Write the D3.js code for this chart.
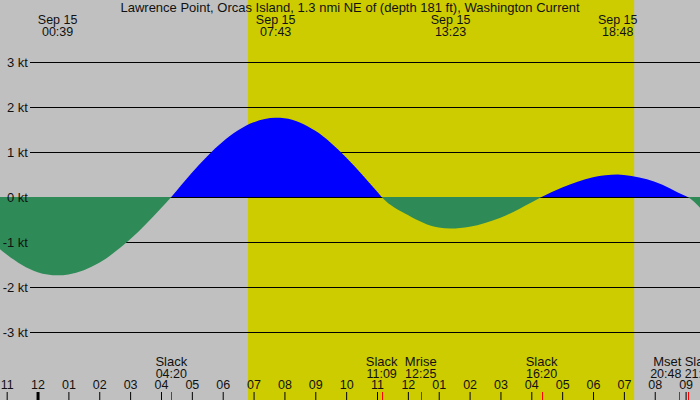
<!DOCTYPE html>
<html>
<head>
<meta charset="utf-8">
<script src="https://cdn.jsdelivr.net/npm/d3@7"></script>
<style>
  body { margin: 0; background: #c0c0c0; }
  svg { display: block; font-family: "Liberation Sans", Arial, sans-serif; }
  text { fill: #111; }
</style>
</head>
<body>
<svg id="chart" width="700" height="400"></svg>
<script>
const title = "Lawrence Point, Orcas Island, 1.3 nmi NE of (depth 181 ft), Washington Current";
const dayLabel = "Sep 15";

// current speed readings (kt)
const readingTimes = [
  "2024-09-14 22:47", "2024-09-14 23:00", "2024-09-15 00:00", "2024-09-15 00:39",
  "2024-09-15 01:00", "2024-09-15 02:00", "2024-09-15 03:00", "2024-09-15 04:00",
  "2024-09-15 04:20", "2024-09-15 05:00", "2024-09-15 06:00", "2024-09-15 07:00",
  "2024-09-15 07:43", "2024-09-15 08:00", "2024-09-15 09:00", "2024-09-15 10:00",
  "2024-09-15 11:00", "2024-09-15 11:09", "2024-09-15 12:00", "2024-09-15 13:00",
  "2024-09-15 13:23", "2024-09-15 14:00", "2024-09-15 15:00", "2024-09-15 16:00",
  "2024-09-15 16:20", "2024-09-15 17:00", "2024-09-15 18:00", "2024-09-15 18:48",
  "2024-09-15 19:00", "2024-09-15 20:00", "2024-09-15 21:00", "2024-09-15 21:04",
  "2024-09-15 21:28"
];
const readingKnots = [
  -1.16, -1.28, -1.67, -1.74,
  -1.72, -1.46, -0.94, -0.25,
  0, 0.54, 1.23, 1.66,
  1.76, 1.75, 1.47, 0.88,
  0.12, 0, -0.40, -0.68,
  -0.70, -0.66, -0.46, -0.12,
  0, 0.21, 0.44, 0.50,
  0.49, 0.34, 0.02, 0,
  -0.24
];

// max flood / max ebb times (labelled at the top)
const peakTimes = ["2024-09-15 00:39", "2024-09-15 07:43", "2024-09-15 13:23", "2024-09-15 18:48"];

// slack and moon events (labelled at the bottom)
const eventNames = ["Slack", "Slack", "Mrise", "Slack", "Mset", "Slack"];
const eventTimes = ["2024-09-15 04:20", "2024-09-15 11:09", "2024-09-15 12:25",
                    "2024-09-15 16:20", "2024-09-15 20:48", "2024-09-15 21:04"];

const sunrise = "2024-09-15 06:49";
const sunset = "2024-09-15 19:20";
const viewStart = "2024-09-14 22:47";
const viewEnd = "2024-09-15 21:28";

const knotTicks = [3, 2, 1, 0, -1, -2, -3];

const parse = d3.utcParse("%Y-%m-%d %H:%M");
const fmtHM = d3.utcFormat("%H:%M");

const W = 700, H = 400;
const svg = d3.select("#chart");

let x = d3.scaleUtc()
  .domain([parse(viewStart), parse(viewEnd)])
  .range([0, W]);
let y = d3.scaleLinear()
  .domain([-3, 3])
  .range([332, 62]);

let data = readingTimes.map((t, i) => ({ t: parse(t), v: readingKnots[i] }));

// daylight band
svg.append("rect")
  .attr("x", x(parse(sunrise)))
  .attr("y", 0)
  .attr("width", x(parse(sunset)) - x(parse(sunrise)))
  .attr("height", H)
  .attr("fill", "#cccc00");

// grid lines
svg.selectAll(".grid")
  .data(knotTicks)
  .enter()
  .append("line")
  .attr("class", "grid")
  .attr("x1", 30)
  .attr("x2", W)
  .attr("y1", d => Math.round(y(d)) + 0.5)
  .attr("y2", d => Math.round(y(d)) + 0.5)
  .attr("stroke", "#000")
  .attr("stroke-width", 1);

// flood / ebb fills, split at zero
let zeroY = Math.round(y(0));
let defs = svg.append("defs");
defs.append("clipPath").attr("id", "clip-flood")
  .append("rect").attr("x", 0).attr("y", 0).attr("width", W).attr("height", zeroY);
defs.append("clipPath").attr("id", "clip-ebb")
  .append("rect").attr("x", 0).attr("y", zeroY).attr("width", W).attr("height", H - zeroY);

let area = d3.area()
  .x(d => x(d.t))
  .y0(y(0))
  .y1(d => y(d.v))
  .curve(d3.curveMonotoneX);

svg.append("path")
  .datum(data)
  .attr("d", area)
  .attr("fill", "#0000ff")
  .attr("clip-path", "url(#clip-flood)");

svg.append("path")
  .datum(data)
  .attr("d", area)
  .attr("fill", "#2e8b57")
  .attr("clip-path", "url(#clip-ebb)");

// knot labels sit on top of the fills
svg.selectAll(".ylab")
  .data(knotTicks)
  .enter()
  .append("text")
  .attr("class", "ylab")
  .attr("x", 28)
  .attr("y", d => Math.round(y(d)) + 0.5)
  .attr("dy", "0.35em")
  .attr("text-anchor", "end")
  .style("font-size", "13px")
  .text(d => d + " kt");

// title
svg.append("text")
  .attr("x", W / 2)
  .attr("y", 12)
  .attr("text-anchor", "middle")
  .style("font-size", "13px")
  .text(title);

// peak labels at the top
let peaks = svg.selectAll(".peak")
  .data(peakTimes.map(parse))
  .enter()
  .append("g")
  .attr("class", "peak")
  .attr("transform", d => `translate(${x(d)},0)`);
peaks.append("text")
  .attr("y", 24)
  .attr("text-anchor", "middle")
  .style("font-size", "12.5px")
  .text(dayLabel);
peaks.append("text")
  .attr("y", 36)
  .attr("text-anchor", "middle")
  .style("font-size", "12.5px")
  .text(d => fmtHM(d));

// hour axis along the bottom
let axis = d3.axisTop(x)
  .ticks(d3.utcHour.every(1))
  .tickFormat(d3.utcFormat("%I"))
  .tickSize(8)
  .tickPadding(3);

let axisG = svg.append("g")
  .attr("transform", `translate(0,${H})`)
  .call(axis);
axisG.select(".domain").remove();
axisG.selectAll("text")
  .style("font-size", "12.5px")
  .style("font-family", "Liberation Sans, Arial, sans-serif")
  .attr("fill", "#111");
axisG.selectAll(".tick line")
  .attr("stroke", "#000")
  .attr("stroke-width", d => d.getUTCHours() === 0 ? 3 : 1);

// slack / moon events
let events = eventTimes.map((t, i) => ({ t: parse(t), name: eventNames[i], anchor: "middle", dx: 0 }));
for (let i = 0; i < events.length - 1; i++) {
  // push crowded neighbours apart
  if (x(events[i + 1].t) - x(events[i].t) < 30) {
    events[i].anchor = "end";
    events[i].dx = 2;
    events[i + 1].anchor = "start";
    events[i + 1].dx = -3;
  }
}

svg.selectAll(".ev-tick")
  .data(events)
  .enter()
  .append("line")
  .attr("class", "ev-tick")
  .attr("x1", d => Math.round(x(d.t)) + 0.5)
  .attr("x2", d => Math.round(x(d.t)) + 0.5)
  .attr("y1", 392)
  .attr("y2", H)
  .attr("stroke", "#ff0000");

let evLab = svg.selectAll(".ev-lab")
  .data(events)
  .enter()
  .append("g")
  .attr("class", "ev-lab")
  .attr("transform", d => `translate(${x(d.t) + d.dx},0)`);
evLab.append("text")
  .attr("y", 366)
  .attr("text-anchor", d => d.anchor)
  .style("font-size", "13px")
  .text(d => d.name);
evLab.append("text")
  .attr("y", 378)
  .attr("text-anchor", d => d.anchor)
  .style("font-size", "12.5px")
  .text(d => fmtHM(d.t));
</script>
</body>
</html>
